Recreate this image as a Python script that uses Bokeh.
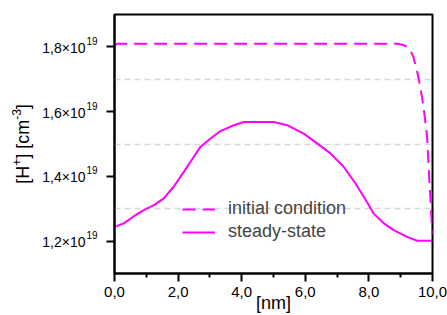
import math
from bokeh.plotting import figure
from bokeh.layouts import row
from bokeh.models import FixedTicker, Range1d
from bokeh.core.properties import value
from bokeh.embed import file_html
from bokeh.resources import INLINE

# Data (concentration in units of 1e19 cm^-3, position in nm)
x_initial = [0.0, 0.1, 1.0, 3.0, 5.0, 7.0, 8.9, 9.1, 9.2, 9.3, 9.4, 9.55, 9.67, 9.75, 9.83, 9.9, 9.95, 9.98, 10.0]
y_initial = [1.805, 1.81, 1.81, 1.81, 1.81, 1.81, 1.81, 1.805, 1.80, 1.79, 1.769, 1.71, 1.645, 1.59, 1.522, 1.388, 1.306, 1.25, 1.22]

x_steady = [0.0, 0.29, 0.61, 0.92, 1.24, 1.55, 1.86, 2.18, 2.49, 2.70, 3.02, 3.33, 3.75, 4.07, 5.01, 5.43,
            5.95, 6.37, 6.79, 7.21, 7.58, 7.90, 8.15, 8.47, 8.78, 9.20, 9.52, 9.94, 10.0]
y_steady = [1.244, 1.255, 1.277, 1.296, 1.311, 1.332, 1.368, 1.414, 1.46, 1.491, 1.517, 1.540, 1.558, 1.568, 1.568, 1.558,
            1.532, 1.502, 1.471, 1.429, 1.378, 1.327, 1.285, 1.255, 1.234, 1.213, 1.201, 1.201, 1.201]

x_ticks = [0, 2, 4, 6, 8, 10]
x_tick_labels = ["0,0", "2,0", "4,0", "6,0", "8,0", "10,0"]
x_minor = [1, 3, 5, 7, 9]
y_ticks = [1.2, 1.4, 1.6, 1.8]
y_tick_mantissas = ["1,2×10", "1,4×10", "1,6×10", "1,8×10"]
y_tick_exponents = ["19", "19", "19", "19"]
y_grid = [1.3, 1.5, 1.7]

# y axis title pieces: (text, is_superscript, approx width in em)
y_title_parts = [("[H", False, 1.0), ("+", True, 0.584), ("] [cm", False, 2.167), ("-3", True, 0.889), ("]", False, 0.278)]

MAG = "#ff00ff"
FONT = "Liberation Sans"
H, TOP, BOTTOM = 315, 14, 42
LEFT_W = 100

y_range = Range1d(1.1, 1.9)

# ---- main plot ----
p = figure(width=447 - LEFT_W, height=H, output_backend="svg", toolbar_location=None,
           x_range=Range1d(0, 10), y_range=y_range,
           min_border_left=14, min_border_top=TOP, min_border_right=15, min_border_bottom=BOTTOM)

p.line(x_initial, y_initial, line_color=MAG, line_width=2, line_dash="13 7", legend_label="initial condition")
p.line(x_steady, y_steady, line_color=MAG, line_width=2, legend_label="steady-state")

p.outline_line_color = "black"
p.outline_line_width = 2
p.outline_line_alpha = 1

p.xaxis.ticker = FixedTicker(ticks=x_ticks, minor_ticks=x_minor)
p.xaxis.major_label_overrides = {t: l for t, l in zip(x_ticks, x_tick_labels)}
p.xaxis.axis_label = "[nm]"
p.xaxis.axis_label_standoff = -7
p.xaxis.major_label_text_font_size = "15px"
p.xaxis.major_label_standoff = 5

p.yaxis.ticker = FixedTicker(ticks=y_ticks, minor_ticks=[])
p.yaxis.major_label_overrides = {t: "" for t in y_ticks}
p.yaxis.major_label_standoff = 0
p.yaxis.minor_tick_line_color = None

for ax in (p.xaxis[0], p.yaxis[0]):
    ax.axis_line_width = 2
    ax.axis_line_color = "black"
    ax.major_tick_line_width = 2
    ax.major_tick_line_color = "black"
    ax.major_tick_in = 0
    ax.major_tick_out = 8
    ax.minor_tick_in = 0
    ax.minor_tick_out = 4
    ax.minor_tick_line_width = 2
    ax.major_label_text_font = FONT
    ax.major_label_text_color = "black"
    ax.axis_label_text_font = FONT
    ax.axis_label_text_font_size = "18px"
    ax.axis_label_text_font_style = "normal"
    ax.axis_label_text_color = "black"

p.xgrid.grid_line_color = None
p.ygrid.ticker = FixedTicker(ticks=y_grid)
p.ygrid.grid_line_color = "#d8d8d8"
p.ygrid.grid_line_dash = "6 4"
p.ygrid.grid_line_width = 1.5

leg = p.legend[0]
leg.location = (58, 21)
leg.background_fill_alpha = 0
leg.border_line_alpha = 0
leg.label_text_font = FONT
leg.label_text_font_size = "18px"
leg.glyph_width = 33
leg.label_standoff = 13
leg.spacing = 2
leg.padding = 10
leg.margin = 0

# ---- left strip holding the y tick labels and y title (with real superscripts) ----
q = figure(width=LEFT_W, height=H, output_backend="svg", toolbar_location=None,
           x_range=Range1d(0, LEFT_W), y_range=y_range, x_axis_type=None, y_axis_type=None,
           min_border_left=0, min_border_right=0, min_border_top=TOP, min_border_bottom=BOTTOM)
q.outline_line_color = None
q.grid.visible = False

q.text(x=[85] * len(y_ticks), y=y_ticks, text=y_tick_mantissas, text_align="right", text_baseline="middle",
       y_offset=1, text_font=value(FONT), text_font_size="14px", text_color="black")
q.text(x=[86] * len(y_ticks), y=y_ticks, text=y_tick_exponents, text_align="left", text_baseline="middle",
       y_offset=-6, text_font=value(FONT), text_font_size="10px", text_color="black")

main_px, sup_px = 18, 12
total = sum(w * (sup_px if sup else main_px) for _, sup, w in y_title_parts)
pos = total / 2
mid = (y_range.start + y_range.end) / 2
for s, sup, w in y_title_parts:
    size = sup_px if sup else main_px
    q.text(x=[22 - (6 if sup else 0)], y=[mid], text=[s], angle=math.pi / 2, y_offset=pos,
           text_align="left", text_baseline="middle", text_font=value(FONT),
           text_font_size=f"{size}px", text_color="black")
    pos -= w * size

layout = row(q, p, spacing=0)
open("out.html", "w").write(file_html(layout, INLINE))
